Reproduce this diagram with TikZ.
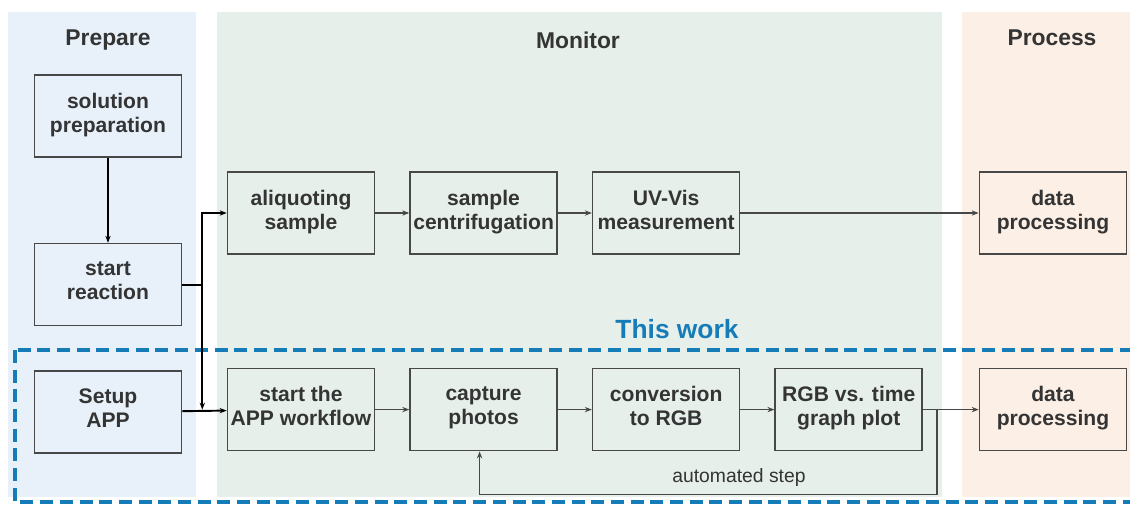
\documentclass[tikz,border=0pt]{standalone}
\usepackage{fontspec}
\setmainfont{Liberation Sans}
\usepackage{tikz}
\usetikzlibrary{arrows.meta, positioning, calc}
\usepackage{xcolor}
\definecolor{prepblue}{RGB}{232,241,250}
\definecolor{mongreen}{RGB}{230,239,233}
\definecolor{procpeach}{RGB}{251,239,230}
\definecolor{boxgray}{RGB}{72,72,72}
\definecolor{txtgray}{RGB}{52,52,52}
\definecolor{workblue}{RGB}{22,124,184}

\begin{document}
\begin{tikzpicture}[
  stepbox/.style={rectangle, draw=boxgray, fill=#1, line width=0.9pt,
                  minimum width=2.94cm, minimum height=1.64cm, inner sep=1pt,
                  align=center, text=txtgray,
                  execute at begin node=\strut, execute at end node=\strut,
                  font=\fontsize{12}{13.6}\selectfont\bfseries},
  title/.style={text=txtgray, font=\fontsize{13}{15}\selectfont\bfseries},
  arr/.style={-{Stealth[length=4pt, width=3pt]}, draw=boxgray, line width=0.6pt},
  arrthick/.style={arr, draw=black, line width=1.1pt},
  lbl/.style={text=txtgray, font=\fontsize{11}{13}\selectfont}
]
\clip (0,0) rectangle (22.6,-10.1);
\fill[prepblue]  (0.16,-0.24) rectangle (3.92,-9.94);
\fill[mongreen]  (4.34,-0.24) rectangle (18.84,-9.94);
\fill[procpeach] (19.24,-0.24) rectangle (23.0,-9.94);

\node[title] (Tprep) at (2.16,-0.80)  {Prepare};
\node[title] (Tmon)  at (11.56,-0.80) {Monitor};
\node[title] (Tproc) at (21.04,-0.76) {Process};

\draw[workblue, line width=2pt, dash pattern=on 7.4pt off 3.8pt]
  (0.30,-7.00) rectangle (23.2,-10.04);
\node[text=workblue, font=\fontsize{15}{17}\selectfont\bfseries] (Twork) at (13.54,-6.58) {This work};

\node[stepbox=prepblue] (P1) at (2.16,-2.32) {solution\\preparation};
\node[stepbox=prepblue, below=1.70cm of P1] (P2) {start\\reaction};
\node[stepbox=prepblue, below=0.88cm of P2] (P3) {Setup\\APP};

\node[stepbox=mongreen] (M1) at (6.02,-4.26) {aliquoting\\sample};
\node[stepbox=mongreen, right=0.68cm of M1] (M2) {sample\\centrifugation};
\node[stepbox=mongreen, right=0.68cm of M2] (M3) {UV-Vis\\measurement};
\node[stepbox=procpeach] (D1) at (21.06,-4.26) {data\\processing};

\node[stepbox=mongreen, below=2.26cm of M1] (A1) {start the\\APP workflow};
\node[stepbox=mongreen, right=0.68cm of A1] (A2) {capture\\photos};
\node[stepbox=mongreen, right=0.68cm of A2] (A3) {conversion\\to RGB};
\node[stepbox=mongreen, right=0.68cm of A3] (A4) {RGB vs. time\\graph plot};
\node[stepbox=procpeach, below=2.26cm of D1] (D2) {data\\processing};

\draw[arrthick] (P1) -- (P2);
\draw[arrthick, -] (P2.east) -- ++(0.40,0) coordinate (J1);
\draw[arrthick] (J1) |- (M1.west);
\draw[arrthick] (J1) -- ($(J1 |- P3.east)+(0,0.05)$);
\draw[arrthick] (P3) -- (A1);
\draw[arr] (M1) -- (M2);
\draw[arr] (M2) -- (M3);
\draw[arr] (M3) -- (D1);
\draw[arr] (A1) -- (A2);
\draw[arr] (A2) -- (A3);
\draw[arr] (A3) -- (A4);
\draw[arr, line width=0.9pt] (A4) -- (D2);
\draw[arr, line width=0.9pt] (A4.east) -- ++(0.28,0) coordinate (J2)
  -- ++(0,-1.70) coordinate (J3) -- ($(J3 -| A2.south)+(-0.08,0)$)
  -- ($(A2.south)+(-0.08,0)$);
\node[lbl] (auto) at (14.78,-9.54) {automated step};
\end{tikzpicture}
\end{document}
